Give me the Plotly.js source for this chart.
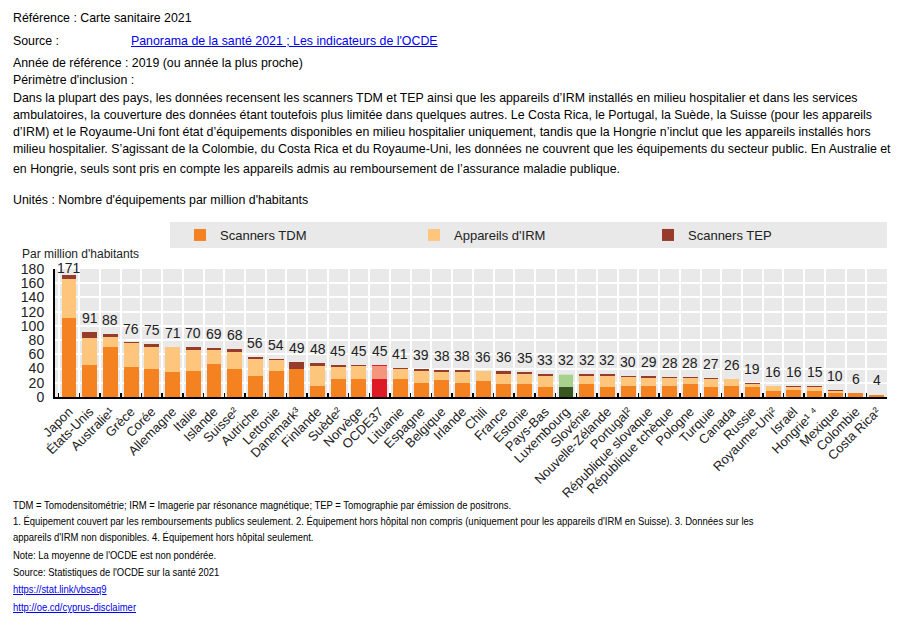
<!DOCTYPE html>
<html>
<head>
<meta charset="utf-8">
<script src="https://cdn.plot.ly/plotly-3.0.1.min.js"></script>
<style>
  html, body { margin: 0; padding: 0; background: #fff; width: 905px; height: 627px; overflow: hidden; }
  #wrap { position: relative; width: 905px; height: 627px; }
  #chart { position: absolute; left: 0; top: 0; width: 905px; height: 627px; }
  .hd { position: absolute; left: 13px; font-family: 'Liberation Sans', Arial, sans-serif; font-size: 13.5px; line-height: 17px; color: #000; white-space: nowrap; transform: scaleX(0.915); transform-origin: 0 50%; }
  .ft { position: absolute; left: 13px; font-family: 'Liberation Sans', Arial, sans-serif; font-size: 11px; line-height: 13px; color: #000; white-space: nowrap; transform: scaleX(0.86); transform-origin: 0 50%; }
  a { color: #0000ee; text-decoration: underline; }
</style>
</head>
<body>
<div id="wrap">
  <div id="chart"></div>
  <div class="hd" style="top:9px">Référence : Carte sanitaire 2021</div>
  <div class="hd" style="top:32px">Source :</div>
  <div class="hd" style="top:32px; left:131px"><a href="#">Panorama de la santé 2021 ; Les indicateurs de l'OCDE</a></div>
  <div class="hd" style="top:54px">Année de référence : 2019 (ou année la plus proche)</div>
  <div class="hd" style="top:71px">Périmètre d'inclusion :</div>
  <div class="hd" style="top:89px">Dans la plupart des pays, les données recensent les scanners TDM et TEP ainsi que les appareils d’IRM installés en milieu hospitalier et dans les services</div>
  <div class="hd" style="top:106px">ambulatoires, la couverture des données étant toutefois plus limitée dans quelques autres. Le Costa Rica, le Portugal, la Suède, la Suisse (pour les appareils</div>
  <div class="hd" style="top:123px">d’IRM) et le Royaume-Uni font état d’équipements disponibles en milieu hospitalier uniquement, tandis que la Hongrie n’inclut que les appareils installés hors</div>
  <div class="hd" style="top:140px">milieu hospitalier. S’agissant de la Colombie, du Costa Rica et du Royaume-Uni, les données ne couvrent que les équipements du secteur public. En Australie et</div>
  <div class="hd" style="top:160px">en Hongrie, seuls sont pris en compte les appareils admis au remboursement de l’assurance maladie publique.</div>
  <div class="hd" style="top:191px">Unités : Nombre d'équipements par million d'habitants</div>

  <div class="ft" style="top:499px">TDM = Tomodensitométrie; IRM = Imagerie par résonance magnétique; TEP = Tomographie par émission de positrons.</div>
  <div class="ft" style="top:515px">1. Équipement couvert par les remboursements publics seulement. 2. Équipement hors hôpital non compris (uniquement pour les appareils d'IRM en Suisse). 3. Données sur les</div>
  <div class="ft" style="top:531px">appareils d'IRM non disponibles. 4. Équipement hors hôpital seulement.</div>
  <div class="ft" style="top:549px">Note: La moyenne de l'OCDE est non pondérée.</div>
  <div class="ft" style="top:566px">Source: Statistiques de l'OCDE sur la santé 2021</div>
  <div class="ft" style="top:583px"><a href="#">https://stat.link/vbsaq9</a></div>
  <div class="ft" style="top:601px"><a href="#">http://oe.cd/cyprus-disclaimer</a></div>
</div>
<script>
const countries = ["Japon","États-Unis","Australie¹","Grèce","Corée","Allemagne","Italie","Islande","Suisse²","Autriche","Lettonie","Danemark³","Finlande","Suède²","Norvège","OCDE37","Lituanie","Espagne","Belgique","Irlande","Chili","France","Estonie","Pays-Bas","Luxembourg","Slovénie","Nouvelle-Zélande","Portugal²","République slovaque","République tchèque","Pologne","Turquie","Canada","Russie","Royaume-Uni²","Israël","Hongrie¹ ⁴","Mexique","Colombie","Costa Rica²"];
const scannersTDM = [111,45,70,42,39,35,36,46,39,29,37,40,16,25,26,25,26,19,23.5,20,23,18,18,14,14,18,14,15,16,16,18,14.5,15,13.5,8.5,9.5,8,6,5,2.5];
const appareilsIRM = [55,38,15,34,32,35,30.5,20,24,24,15,0,28,17,17,18,13,18,11,15,13,15,15,15,17,12,16,13,11,11,9,11,10,5,6.5,5,6,3,1,0.5];
const scannersTEP = [5,8,3,1,4,1,3.5,3,5,3,2,9,4,3,2,2,2,2,3.5,3,0,3,2,4,1,2,2,2,2,1,1,1.5,1,0.5,1,1.5,1,1,0,0];
const totalLabels = [171,91,88,76,75,71,70,69,68,56,54,49,48,45,45,45,41,39,38,38,36,36,35,33,32,32,32,30,29,28,28,27,26,19,16,16,15,10,6,4];
const highlightOECD = "OCDE37";
const highlightLux = "Luxembourg";

function colorsFor(base, oecd, lux) {
  return countries.map(c => c === highlightOECD ? oecd : (c === highlightLux ? lux : base));
}

const traces = [
  { type: 'bar', name: 'Scanners TDM', x: countries, y: scannersTDM,
    marker: { color: colorsFor('#F58220', '#DE1B24', '#38561F') }, hoverinfo: 'x+y' },
  { type: 'bar', name: "Appareils d'IRM", x: countries, y: appareilsIRM,
    marker: { color: colorsFor('#FEC57C', '#F4957D', '#A9D18E') }, hoverinfo: 'x+y' },
  { type: 'bar', name: 'Scanners TEP', x: countries, y: scannersTEP,
    marker: { color: colorsFor('#973B2A', '#E2202A', '#CFE5BF') }, hoverinfo: 'x+y' }
];

// plot area: x 55..887, y 269..397 in page pixels
const W = 905, H = 627, L = 55, R = 18, T = 269, B = 230;
const pw = W - L - R, ph = H - T - B;
const px = v => (v - L) / pw;
const py = v => 1 + (T - v) / ph;

const annotations = countries.map((c, i) => ({
  x: c, y: totalLabels[i], xref: 'x', yref: 'y', text: String(totalLabels[i]),
  showarrow: false, yanchor: 'middle', yshift: totalLabels[i] > 165 ? 7 : 14,
  font: { family: 'Liberation Sans, Arial, sans-serif', size: 14, color: '#222' }
}));
annotations.push({
  x: px(20), y: py(254), xref: 'paper', yref: 'paper', xanchor: 'left', yanchor: 'middle',
  text: "Par million d'habitants", showarrow: false,
  font: { family: 'Liberation Sans, Arial, sans-serif', size: 12, color: '#222' }
});

const layout = {
  width: W, height: H,
  margin: { l: L, r: R, t: T, b: B, pad: 0, autoexpand: false },
  paper_bgcolor: 'rgba(0,0,0,0)',
  plot_bgcolor: '#E9E9E9',
  barmode: 'stack',
  bargap: 0.28,
  font: { family: 'Liberation Sans, Arial, sans-serif', size: 13, color: '#222' },
  showlegend: true,
  legend: {
    orientation: 'h', x: px(180), y: py(235), xanchor: 'left', yanchor: 'middle',
    bgcolor: 'rgba(0,0,0,0)', traceorder: 'normal',
    entrywidth: 189, entrywidthmode: 'pixels',
    font: { family: 'Liberation Sans, Arial, sans-serif', size: 13, color: '#222' }
  },
  xaxis: {
    type: 'category', tickangle: -45, tickson: 'boundaries',
    ticks: 'inside', ticklen: 4, tickcolor: '#000', tickwidth: 1.5,
    showline: true, linecolor: '#000', linewidth: 2,
    showgrid: true, gridcolor: '#FFFFFF', gridwidth: 2,
    tickfont: { family: 'Liberation Sans, Arial, sans-serif', size: 13, color: '#222' },
    fixedrange: true
  },
  yaxis: {
    range: [0, 180], dtick: 20, tick0: 0,
    showline: true, linecolor: '#000', linewidth: 2,
    showgrid: true, gridcolor: '#FFFFFF', gridwidth: 2, zeroline: false,
    ticks: '', ticklen: 0, ticklabelstandoff: 6,
    tickfont: { family: 'Liberation Sans, Arial, sans-serif', size: 14, color: '#222' },
    fixedrange: true
  },
  shapes: [{
    type: 'rect', xref: 'paper', yref: 'paper', layer: 'below',
    x0: px(170), x1: px(887), y0: py(248), y1: py(222),
    fillcolor: '#E9E9E9', line: { width: 0 }
  }],
  annotations: annotations
};

Plotly.newPlot('chart', traces, layout, { displayModeBar: false, staticPlot: true });
</script>
</body>
</html>
